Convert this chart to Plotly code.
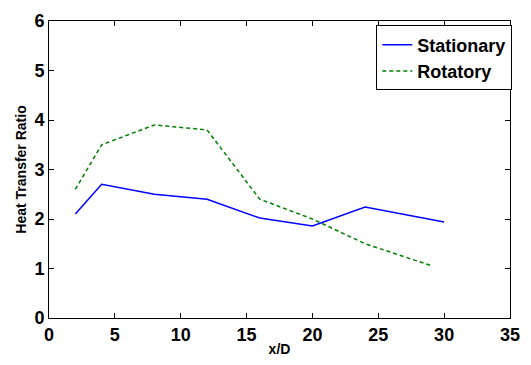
import plotly.graph_objects as go

x_stationary = [2, 4, 8, 12, 16, 20, 24, 30]
y_stationary = [2.1, 2.7, 2.5, 2.4, 2.02, 1.86, 2.24, 1.94]
x_rotatory = [2, 4, 8, 12, 16, 20, 24, 29]
y_rotatory = [2.6, 3.5, 3.9, 3.8, 2.4, 2.0, 1.5, 1.06]

x_ticks = [0, 5, 10, 15, 20, 25, 30, 35]
y_ticks = [0, 1, 2, 3, 4, 5, 6]

FONT = "Arial, Liberation Sans, sans-serif"

fig = go.Figure()
fig.add_trace(go.Scatter(x=x_stationary, y=y_stationary, mode="lines", name="<b>Stationary</b>",
                         line=dict(color="#0000FF", width=1.5)))
fig.add_trace(go.Scatter(x=x_rotatory, y=y_rotatory, mode="lines", name="<b>Rotatory</b>",
                         line=dict(color="#008000", width=1.5, dash="4px,3px")))

axis_common = dict(showgrid=False, zeroline=False, showline=True, linecolor="black", linewidth=1,
                   mirror="ticks", ticks="inside", ticklen=5, tickcolor="black", tickwidth=1,
                   tickfont=dict(family=FONT, size=18, color="black"))

fig.update_xaxes(range=[0, 35], tickvals=x_ticks, ticktext=["<b>%d</b>" % v for v in x_ticks],
                 title=dict(text="<b>x/D</b>", font=dict(family=FONT, size=14, color="black"), standoff=0),
                 **axis_common)
fig.update_yaxes(range=[0, 6], tickvals=y_ticks, ticktext=["<b>%d</b>" % v for v in y_ticks],
                 title=dict(text="<b>Heat Transfer Ratio</b>", font=dict(family=FONT, size=14, color="black"), standoff=4),
                 **axis_common)

fig.update_layout(
    width=531, height=365,
    margin=dict(l=49, r=11, t=16, b=43),
    paper_bgcolor="white", plot_bgcolor="white",
    legend=dict(x=1.005, y=0.985, xanchor="right", yanchor="top",
                bordercolor="black", borderwidth=1, bgcolor="white",
                font=dict(family=FONT, size=18, color="black"),
                tracegroupgap=0),
    showlegend=True,
)

fig.write_html("out.html")
